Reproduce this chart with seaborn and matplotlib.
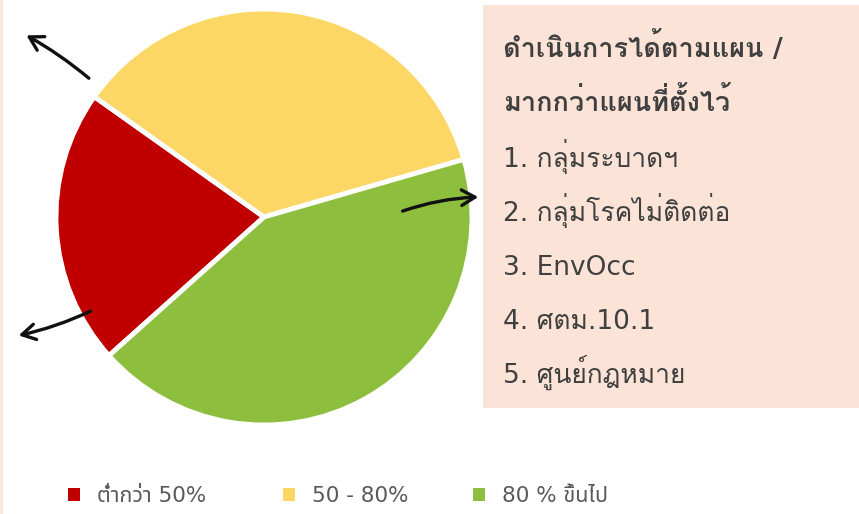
import matplotlib
matplotlib.use("Agg")
import matplotlib.pyplot as plt
from matplotlib.patches import Rectangle, Patch, FancyArrowPatch
import seaborn as sns

# data
categories = ["ต่ำกว่า 50%", "50 - 80%", "80 % ขึ้นไป"]
counts = [3, 5, 6]
colors = ["#C00000", "#FDD766", "#8DBE3E"]

box_title = ["ดำเนินการได้ตามแผน /", "มากกว่าแผนที่ตั้งไว้"]
box_items = ["1. กลุ่มระบาดฯ", "2. กลุ่มโรคไม่ติดต่อ", "3. EnvOcc",
             "4. ศตม.10.1", "5. ศูนย์กฎหมาย"]

sns.set_theme(style="white")
box_font = ["DejaVu Sans", "Loma", "IBM Plex Sans Thai Looped"]
legend_font = ["DejaVu Sans", "Noto Sans Thai"]
plt.rcParams["font.family"] = box_font

W, H = 859, 514
fig = plt.figure(figsize=(W / 100, H / 100), dpi=100)
fig.patch.set_facecolor("white")


def fx(px):
    return px / W


def fy(py):
    return 1 - py / H


# peach text box on the right + thin strip at the left edge
fig.add_artist(Rectangle((fx(483), fy(408)), fx(W) - fx(483), fy(5) - fy(408),
                         transform=fig.transFigure, facecolor="#FBE4D7",
                         edgecolor="none", zorder=0))
fig.add_artist(Rectangle((0, 0), fx(3), 1, transform=fig.transFigure,
                         facecolor="#FBE9DF", edgecolor="none", zorder=0))

# pie
cx, cy, r = 264, 217, 208
ax = fig.add_axes([fx(cx - r), fy(cy + r), (2 * r) / W, (2 * r) / H])
ax.set_facecolor("none")
wedges, _ = ax.pie(counts, colors=colors, startangle=221.8, counterclock=False,
                   wedgeprops=dict(edgecolor="white", linewidth=3.5))
ax.set_xlim(-1.0, 1.0)
ax.set_ylim(-1.0, 1.0)
ax.set_aspect("equal")
ax.axis("off")

# text inside the box
text_color = "#404040"
for i, line in enumerate(box_title):
    fig.text(fx(503), fy(57 + i * 54), line, fontsize=19.5, fontweight="bold",
             color=text_color, va="baseline", ha="left", family=box_font)
for i, line in enumerate(box_items):
    fig.text(fx(503), fy(167 + i * 54), line, fontsize=19,
             color=text_color, va="baseline", ha="left", family=box_font)

# hand drawn arrows
arrows = [((91, 80), (24, 34), 0.05),
          ((93, 310), (16, 336), -0.06),
          ((400, 212), (481, 197), -0.08)]
for (x0, y0), (x1, y1), rad in arrows:
    fig.add_artist(FancyArrowPatch(
        (fx(x0), fy(y0)), (fx(x1), fy(y1)), transform=fig.transFigure,
        arrowstyle="->,head_length=6,head_width=3.5",
        connectionstyle=f"arc3,rad={rad}", color="#111111", lw=2.4,
        mutation_scale=1.6, zorder=5))

# legend: one entry per block, spaced like the original
legend_x = [68, 283, 473]
for wedge_color, label, lx in zip(colors, categories, legend_x):
    leg = fig.legend([Patch(facecolor=wedge_color, edgecolor="none")], [label],
                     loc="lower left", bbox_to_anchor=(fx(lx), fy(506)),
                     frameon=False, borderpad=0, borderaxespad=0,
                     handlelength=0.55, handleheight=0.55, handletextpad=0.8,
                     prop={"family": legend_font, "size": 15.5},
                     labelcolor="#595959")

fig.savefig("out.png", dpi=100)
